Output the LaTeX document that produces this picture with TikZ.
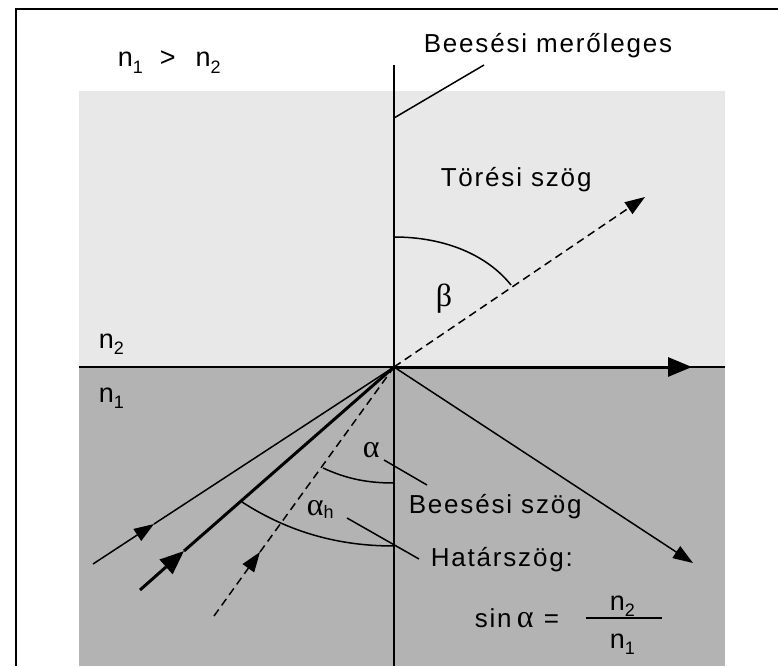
\documentclass[tikz,border=0pt]{standalone}
\usepackage{fontspec}
\setmainfont{Liberation Sans}
\newfontfamily\lab{Liberation Sans}[LetterSpace=7]
\newfontfamily\grk{Liberation Serif}
\usetikzlibrary{arrows.meta}
\definecolor{lightgr}{RGB}{232,232,232}
\definecolor{darkgr}{RGB}{179,179,179}
\newcommand\sbs[1]{\raisebox{-6pt}{\fontsize{18}{18}\selectfont #1}}
\begin{document}
\begin{tikzpicture}[x=1pt,y=-1pt,line width=1.5pt,
  txt/.style={inner sep=0pt,anchor=base west,font=\lab\fontsize{26}{28}\selectfont},
  ntxt/.style={inner sep=0pt,anchor=base west,font=\fontsize{27}{28}\selectfont},
  grtxt/.style={inner sep=0pt,anchor=base west,font=\grk\fontsize{32}{32}\selectfont},
  arr/.style={-{Triangle[length=20pt,width=14pt]}},
  bigarr/.style={-{Triangle[length=24pt,width=19pt]}},
  dashray/.style={dash pattern=on 8pt off 5pt},
  thickray/.style={line width=3pt}]
\useasboundingbox (0,0) rectangle (778,666);
% media
\fill[lightgr] (79,91) rectangle (725,367);
\fill[darkgr] (79,367) rectangle (725,666);
% frame
\draw[line width=2pt] (16,666) -- (16,9) -- (778,9);
% coordinates
\coordinate (O) at (394,367);
\coordinate (Ntop) at (394,65);
\coordinate (Nbot) at (394,666);
\coordinate (IL) at (79,367);
\coordinate (IR) at (725,367);
\coordinate (Rtip) at (692,367);
\coordinate (Ftip) at (645,197);
\coordinate (Ltip) at (693,563);
\coordinate (A1) at (93,564);  \coordinate (A1m) at (154,524);
\coordinate (A2) at (140,590); \coordinate (A2m) at (184,551);
\coordinate (A3) at (214,616); \coordinate (A3m) at (260,552);
\coordinate (L1a) at (394,118); \coordinate (L1b) at (484,65);
\coordinate (L2a) at (384,460); \coordinate (L2b) at (427,485);
\coordinate (L3a) at (347,518); \coordinate (L3b) at (419,559);
\coordinate (Ba) at (394,237); \coordinate (Bb) at (511,285);
\coordinate (Aa) at (323,468); \coordinate (Ab) at (394,483);
\coordinate (Ha) at (242,502); \coordinate (Hb) at (394,546);
% lines
\draw (IL) -- (IR);
\draw (Ntop) -- (Nbot);
\draw (L1a) -- (L1b);
\draw[line width=3pt,bigarr] (O) -- (Rtip);
\draw[dashray,arr] (O) -- (Ftip);
\draw[arr] (O) -- (Ltip);
% incident rays
\draw[arr] (A1) -- (A1m); \draw (A1m) -- (O);
\draw[thickray,bigarr] (A2) -- (A2m); \draw[thickray] (A2m) -- (O);
\draw[dashray,arr] (A3) -- (A3m); \draw[dashray] (A3m) -- (O);
% arcs
\draw (Ba) .. controls (445,237) and (487,255) .. (Bb);
\draw (Aa) .. controls (345,478) and (365,483) .. (Ab);
\draw (Ha) .. controls (290,533) and (340,546) .. (Hb);
\draw (L2a) -- (L2b);
\draw (L3a) -- (L3b);
% fraction bar
\coordinate (Fa) at (586,618); \coordinate (Fb) at (662,618);
\draw (Fa) -- (Fb);
% texts
\node[txt] (tmer) at (423,53) {Beesési merőleges};
\node[ntxt] (tn) at (117,67) {n\sbs{1}\hspace{17pt}>\hspace{20pt}n\sbs{2}};
\node[ntxt] (tn2) at (98,348) {n\sbs{2}};
\node[ntxt] (tn1) at (98,402) {n\sbs{1}};
\node[txt] (ttor) at (440,186) {Törési szög};
\node[grtxt] (tbeta) at (435,306) {β};
\node[grtxt] (talpha) at (362,457) {α};
\node[grtxt] (tah) at (306,515) {α\raisebox{-3pt}{\fontspec{Liberation Sans}\fontsize{18}{18}\selectfont h}};
\node[txt] (tbsz) at (408,513) {Beesési szög};
\node[txt] (thsz) at (430,566) {Határszög:};
\node[txt] (tsin) at (474,627) {sin};
\node[grtxt] (tsa) at (516,627) {α};
\node[txt] (teq) at (543,627) {=};
\node[ntxt] (tfn2) at (609,610) {n\sbs{2}};
\node[ntxt] (tfn1) at (609,648) {n\sbs{1}};
\end{tikzpicture}
\end{document}
